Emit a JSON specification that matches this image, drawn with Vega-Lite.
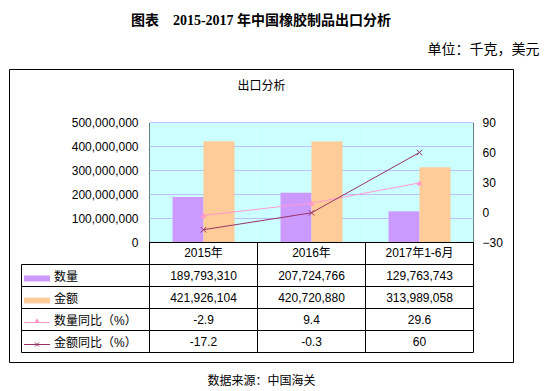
{
  "$schema": "https://vega.github.io/schema/vega-lite/v6.json",
  "width": 504,
  "height": 293,
  "autosize": {"type": "none"},
  "padding": {"left": 9, "top": 69, "right": 31, "bottom": 29},
  "background": "white",
  "title": {
    "text": "图表　2015-2017 年中国橡胶制品出口分析",
    "font": "Liberation Serif, Noto Sans CJK SC",
    "fontSize": 14,
    "fontWeight": "bold",
    "color": "black",
    "anchor": "middle",
    "offset": 14
  },
  "config": {
    "font": "Liberation Sans, Noto Sans CJK SC, sans-serif",
    "view": {"stroke": "black", "strokeWidth": 1, "fill": "white"},
    "legend": {"disable": true},
    "axis": {
      "labelFont": "Liberation Sans, Noto Sans CJK SC",
      "labelFontSize": 12,
      "labelColor": "black",
      "domainColor": "black",
      "domainWidth": 1,
      "titleFont": "Liberation Sans, Noto Sans CJK SC",
      "titleFontWeight": "normal",
      "titleColor": "black",
      "grid": false,
      "ticks": false,
      "zindex": 1
    },
    "text": {"font": "Liberation Sans, Noto Sans CJK SC", "fontSize": 12, "color": "black"}
  },
  "datasets": {
    "d": [
      {"cat": "2015年", "series": "数量", "value": 189793310},
      {"cat": "2016年", "series": "数量", "value": 207724766},
      {"cat": "2017年1-6月", "series": "数量", "value": 129763743},
      {"cat": "2015年", "series": "金额", "value": 421926104},
      {"cat": "2016年", "series": "金额", "value": 420720880},
      {"cat": "2017年1-6月", "series": "金额", "value": 313989058},
      {"cat": "2015年", "series": "数量同比（%）", "value": -2.9},
      {"cat": "2016年", "series": "数量同比（%）", "value": 9.4},
      {"cat": "2017年1-6月", "series": "数量同比（%）", "value": 29.6},
      {"cat": "2015年", "series": "金额同比（%）", "value": -17.2},
      {"cat": "2016年", "series": "金额同比（%）", "value": -0.3},
      {"cat": "2017年1-6月", "series": "金额同比（%）", "value": 60}
    ],
    "grid": [
      {"g": 100000000},
      {"g": 200000000},
      {"g": 300000000},
      {"g": 400000000},
      {"g": 500000000}
    ]
  },
  "layer": [
    {
      "layer": [
        {
          "layer": [
            {
              "data": {"name": "d"},
              "transform": [{"filter": "datum.series === '数量'"}],
              "mark": {"type": "rect", "fill": "#CCFFFF"},
              "encoding": {
                "x": {
                  "field": "cat", "type": "nominal",
                  "scale": {"domain": ["2015年", "2016年", "2017年1-6月"], "range": [140.5, 464.5], "paddingInner": 0, "paddingOuter": 0},
                  "axis": {
                    "orient": "bottom", "offset": -120, "labelPadding": 5, "labelAngle": 0, "domain": true,
                    "title": "数据来源：中国海关", "titleX": 252, "titleY": 138, "titleAlign": "center", "titleBaseline": "middle", "titleFontSize": 12, "titlePadding": 0
                  }
                },
                "y": {
                  "datum": 500000000, "type": "quantitative",
                  "scale": {"domain": [0, 500000000], "range": [173.5, 53.5], "nice": false, "zero": false},
                  "axis": {
                    "orient": "left", "offset": -140, "values": [0, 100000000, 200000000, 300000000, 400000000, 500000000], "format": ",d",
                    "labelPadding": 11, "domain": true,
                    "title": "出口分析", "titleAngle": 0, "titleX": 112, "titleY": 16, "titleAlign": "center", "titleBaseline": "middle", "titleFontSize": 12
                  }
                },
                "y2": {"datum": 0}
              }
            },
            {
              "data": {"name": "grid"},
              "mark": {"type": "rule", "color": "#BFBFFF", "strokeWidth": 1},
              "encoding": {
                "x": {"datum": "2015年", "type": "nominal", "bandPosition": 0},
                "x2": {"datum": "2017年1-6月", "bandPosition": 1},
                "y": {"field": "g", "type": "quantitative"}
              }
            },
            {
              "data": {"name": "d"},
              "transform": [{"filter": "datum.series === '数量' || datum.series === '金额'"}],
              "mark": {"type": "bar"},
              "encoding": {
                "x": {"field": "cat", "type": "nominal"},
                "xOffset": {"field": "series", "type": "nominal", "scale": {"domain": ["数量", "金额"], "paddingOuter": 0.742, "paddingInner": 0}},
                "y": {
                  "field": "value", "type": "quantitative", "stack": null,
                  "axis": {
                    "orient": "left", "offset": -140, "values": [0, 100000000, 200000000, 300000000, 400000000, 500000000], "format": ",d",
                    "labelPadding": 11, "domain": true,
                    "title": "出口分析", "titleAngle": 0, "titleX": 112, "titleY": 16, "titleAlign": "center", "titleBaseline": "middle", "titleFontSize": 12
                  }
                },
                "color": {
                  "field": "series", "type": "nominal",
                  "scale": {"domain": ["数量", "金额", "数量同比（%）", "金额同比（%）"], "range": ["#CC99FF", "#FFCC99", "#FF99CC", "#993366"]}
                }
              }
            }
          ]
        },
        {
          "data": {"name": "d"},
          "transform": [{"filter": "datum.series === '数量同比（%）' || datum.series === '金额同比（%）'"}],
          "encoding": {
            "x": {"field": "cat", "type": "nominal"},
            "y": {
              "field": "value", "type": "quantitative",
              "scale": {"domain": [-30, 90], "range": [173.5, 53.5], "nice": false, "zero": false},
              "axis": {
                "orient": "right", "offset": -40, "values": [-30, 0, 30, 60, 90], "labelPadding": 9, "domain": true,
                "title": "单位：千克，美元", "titleAngle": 0, "titleX": 66, "titleY": -20, "titleAlign": "right", "titleBaseline": "middle", "titleFontSize": 14
              }
            },
            "color": {"field": "series", "type": "nominal"}
          },
          "layer": [
            {"mark": {"type": "line", "strokeWidth": 1}},
            {
              "transform": [{"filter": "datum.series === '数量同比（%）'"}],
              "mark": {"type": "point", "shape": "triangle-up", "filled": true, "size": 36, "opacity": 1}
            },
            {
              "transform": [{"filter": "datum.series === '金额同比（%）'"}],
              "mark": {"type": "point", "shape": "M-1,-1L1,1M-1,1L1,-1", "filled": false, "size": 30, "strokeWidth": 1, "opacity": 1}
            }
          ]
        },
        {
          "layer": [
            {
              "data": {"name": "d"},
              "transform": [{"filter": "datum.series === '数量'"}],
              "mark": {"type": "rect", "filled": false, "stroke": "black", "strokeWidth": 1},
              "encoding": {
                "x": {"field": "cat", "type": "nominal"},
                "y": {
                  "datum": "header", "type": "nominal",
                  "scale": {"domain": ["header", "数量", "金额", "数量同比（%）", "金额同比（%）"], "range": [173.5, 283.5], "paddingInner": 0, "paddingOuter": 0},
                  "axis": null
                }
              }
            },
            {
              "data": {"name": "d"},
              "mark": {"type": "rect", "filled": false, "stroke": "black", "strokeWidth": 1},
              "encoding": {
                "x": {"field": "cat", "type": "nominal"},
                "y": {"field": "series", "type": "nominal"}
              }
            },
            {
              "data": {"name": "d"},
              "transform": [{"filter": "datum.series === '数量' || datum.series === '金额'"}],
              "mark": {"type": "text", "align": "center", "baseline": "middle", "fontSize": 12},
              "encoding": {
                "x": {"field": "cat", "type": "nominal"},
                "y": {"field": "series", "type": "nominal"},
                "text": {"field": "value", "type": "quantitative", "format": ",d"}
              }
            },
            {
              "data": {"name": "d"},
              "transform": [{"filter": "datum.series === '数量同比（%）' || datum.series === '金额同比（%）'"}],
              "mark": {"type": "text", "align": "center", "baseline": "middle", "fontSize": 12},
              "encoding": {
                "x": {"field": "cat", "type": "nominal"},
                "y": {"field": "series", "type": "nominal"},
                "text": {"field": "value", "type": "nominal"}
              }
            }
          ]
        }
      ],
      "resolve": {"scale": {"y": "independent"}}
    },
    {
      "data": {"name": "d"},
      "transform": [{"filter": "datum.cat === '2015年'"}],
      "encoding": {
        "x": {"datum": "lab", "type": "nominal", "scale": {"domain": ["lab"], "range": [12.5, 140.5], "paddingInner": 0, "paddingOuter": 0}, "axis": null},
        "y": {
          "field": "series", "type": "nominal",
          "scale": {"domain": ["header", "数量", "金额", "数量同比（%）", "金额同比（%）"], "range": [173.5, 283.5], "paddingInner": 0, "paddingOuter": 0},
          "axis": null
        }
      },
      "layer": [
        {"mark": {"type": "rect", "filled": false, "stroke": "black", "strokeWidth": 1}},
        {
          "mark": {"type": "text", "align": "left", "baseline": "middle", "dx": 32.5, "dy": 1, "fontSize": 12},
          "encoding": {
            "x": {"datum": "lab", "type": "nominal", "bandPosition": 0},
            "text": {"field": "series", "type": "nominal"}
          }
        },
        {
          "transform": [{"filter": "datum.series === '数量' || datum.series === '金额'"}],
          "mark": {"type": "point", "shape": "M-1,-0.23H1V0.23H-1Z", "filled": true, "size": 676, "opacity": 1, "xOffset": 15.5, "yOffset": 3},
          "encoding": {
            "x": {"datum": "lab", "type": "nominal", "bandPosition": 0},
            "color": {"field": "series", "type": "nominal"}
          }
        },
        {
          "transform": [{"filter": "datum.series === '数量同比（%）' || datum.series === '金额同比（%）'"}],
          "mark": {"type": "point", "shape": "M-1,0H1", "filled": false, "size": 676, "strokeWidth": 1, "opacity": 1, "xOffset": 15.5, "yOffset": 3},
          "encoding": {
            "x": {"datum": "lab", "type": "nominal", "bandPosition": 0},
            "color": {"field": "series", "type": "nominal"}
          }
        },
        {
          "transform": [{"filter": "datum.series === '数量同比（%）'"}],
          "mark": {"type": "point", "shape": "triangle-up", "filled": true, "size": 30, "opacity": 1, "xOffset": 15.5, "yOffset": 1},
          "encoding": {
            "x": {"datum": "lab", "type": "nominal", "bandPosition": 0},
            "color": {"field": "series", "type": "nominal"}
          }
        },
        {
          "transform": [{"filter": "datum.series === '金额同比（%）'"}],
          "mark": {"type": "point", "shape": "M-1,-1L1,1M-1,1L1,-1", "filled": false, "size": 16, "strokeWidth": 1, "opacity": 1, "xOffset": 15.5, "yOffset": 3},
          "encoding": {
            "x": {"datum": "lab", "type": "nominal", "bandPosition": 0},
            "color": {"field": "series", "type": "nominal"}
          }
        }
      ]
    }
  ],
  "resolve": {"scale": {"x": "independent", "y": "independent"}}
}
